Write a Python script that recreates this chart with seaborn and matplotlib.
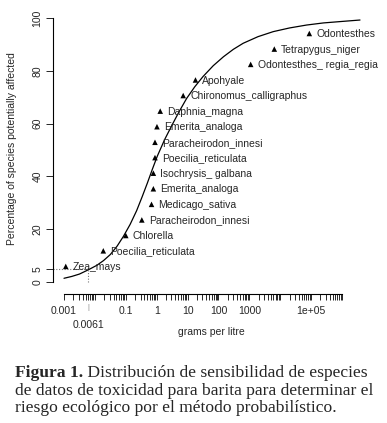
import matplotlib
matplotlib.use("Agg")
import numpy as np
import pandas as pd
import matplotlib.pyplot as plt
from matplotlib.ticker import FixedLocator, FixedFormatter, NullFormatter
import seaborn as sns

# --- data ---
species = ["Zea_mays", "Poecilia_reticulata", "Chlorella", "Paracheirodon_innesi",
           "Medicago_sativa", "Emerita_analoga", "Isochrysis_ galbana", "Poecilia_reticulata",
           "Paracheirodon_innesi", "Emerita_analoga", "Daphnia_magna", "Chironomus_calligraphus",
           "Apohyale", "Odontesthes_ regia_regia", "Tetrapygus_niger", "Odontesthes"]
conc = [0.00114, 0.0187, 0.1, 0.33, 0.68, 0.78, 0.78, 0.88, 0.88, 1.02, 1.3,
        7.2, 18, 1100, 6400, 87000]
pct = [5.9, 11.8, 17.6, 23.5, 29.4, 35.3, 41.2, 47.1, 52.9, 58.8, 64.7,
       70.6, 76.5, 82.4, 88.2, 94.1]

# fitted SSD curve
curve_conc = [0.001, 0.00178, 0.00316, 0.0061, 0.0115, 0.019, 0.0316, 0.0525, 0.083,
              0.138, 0.224, 0.339, 0.5, 0.724, 1.05, 1.82, 3.16, 5.37, 9.3, 17,
              31.6, 67.6, 145, 302, 630, 1900, 5900, 20000, 71000, 250000, 850000, 3800000]
curve_pct = [1.4, 2.1, 3.0, 4.6, 6.3, 8.1, 10.4, 13.6, 17.2,
             21.8, 27.0, 32.3, 37.5, 42.7, 47.7, 54.0, 59.5, 64.6, 69.5, 73.9,
             77.8, 81.9, 85.3, 88.1, 90.4, 92.9, 94.8, 96.2, 97.3, 98.1, 98.6, 99.2]

hc5_conc = 0.0061
hc5_pct = 5

ytick_vals = [0, 5, 20, 40, 60, 80, 100]
xtick_vals = [0.001, 0.1, 1, 10, 100, 1000, 1e5]
xtick_text = ["0.001", "0.1", "1", "10", "100", "1000", "1e+05"]

caption_bold = "Figura 1."
caption_lines = [" Distribución de sensibilidad de especies",
                 "de datos de toxicidad para barita para determinar el",
                 "riesgo ecológico por el método probabilístico."]

df = pd.DataFrame({"species": species, "conc": conc, "pct": pct})
df_curve = pd.DataFrame({"conc": curve_conc, "pct": curve_pct})

sns.set_style("ticks")
plt.rcParams['font.family'] = ['Liberation Sans', 'DejaVu Sans']

W, H = 387, 423
fs = 7.5
fig = plt.figure(figsize=(W / 100, H / 100), dpi=100)
ax = fig.add_axes([53 / W, 1 - 294 / H, 317 / W, 279 / H])

sns.lineplot(data=df_curve, x="conc", y="pct", color="black", lw=0.9, ax=ax, sort=False)
sns.scatterplot(data=df, x="conc", y="pct", marker="^", color="black", s=16,
                edgecolor="none", ax=ax, zorder=3)
for _, r in df.iterrows():
    ax.annotate(r["species"], (r["conc"], r["pct"]), xytext=(5, -0.5),
                textcoords="offset points", va="center", ha="left",
                fontsize=fs, annotation_clip=False)

ax.set_xscale("log")
ax.set_xlim(10 ** -3.356, 10 ** 6.903)
ax.set_ylim(-4.55, 101.1)

# HC5 guide lines
ax.hlines(hc5_pct, ax.get_xlim()[0], hc5_conc, colors="#777777", linestyles=(0, (1, 1.5)), lw=0.8)
ax.vlines(hc5_conc, 0, hc5_pct, colors="#777777", linestyles=(0, (1, 1.5)), lw=0.8)

# axes in R style
sns.despine(ax=ax)
ax.spines["left"].set_bounds(0, 100)
ax.spines["bottom"].set_bounds(1e-3, 1e6)
for s in ["left", "bottom"]:
    ax.spines[s].set_linewidth(0.8)
    ax.spines[s].set_color("black")

major = [10.0 ** e for e in range(-3, 7)]
minor = [k * 10.0 ** e for e in range(-3, 6) for k in range(2, 10)]
labels = [xtick_text[xtick_vals.index(m)] if m in xtick_vals else "" for m in major]
ax.xaxis.set_major_locator(FixedLocator(major))
ax.xaxis.set_major_formatter(FixedFormatter(labels))
ax.xaxis.set_minor_locator(FixedLocator(minor))
ax.xaxis.set_minor_formatter(NullFormatter())
ax.tick_params(axis="x", which="both", length=4.3, width=0.7, labelsize=fs, pad=4.5)

ax.set_yticks(ytick_vals)
ax.set_yticklabels([str(v) for v in ytick_vals], rotation=90, va="center")
ax.tick_params(axis="y", length=4.7, width=0.7, labelsize=fs, pad=3)

ax.set_xlabel("")
ax.set_ylabel("")

tr = ax.get_xaxis_transform()
ax.text(hc5_conc, -0.05, "|", transform=tr, ha="center", va="center",
        fontsize=5, color="#888888")
ax.text(hc5_conc, -0.11, "0.0061", transform=tr, ha="center", va="center", fontsize=fs)

fig.text(211 / W, 1 - 332 / H, "grams per litre", ha="center", va="center", fontsize=fs)
fig.text(12 / W, 1 - 149 / H, "Percentage of species potentially affected",
         rotation=90, ha="center", va="center", fontsize=fs)

# caption
serif = ['Liberation Serif', 'DejaVu Serif']
cfs = 12.6
t0 = fig.text(15 / W, 1 - 377 / H, caption_bold, fontsize=cfs, fontweight="bold",
              family=serif, va="baseline", ha="left")
fig.canvas.draw()
bb = t0.get_window_extent()
fig.text(bb.x1 / W, 1 - 377 / H, caption_lines[0], fontsize=cfs, family=serif,
         va="baseline", ha="left")
fig.text(15 / W, 1 - 395 / H, caption_lines[1], fontsize=cfs, family=serif,
         va="baseline", ha="left")
fig.text(15 / W, 1 - 412 / H, caption_lines[2], fontsize=cfs, family=serif,
         va="baseline", ha="left")

fig.savefig("out.png", dpi=100)
